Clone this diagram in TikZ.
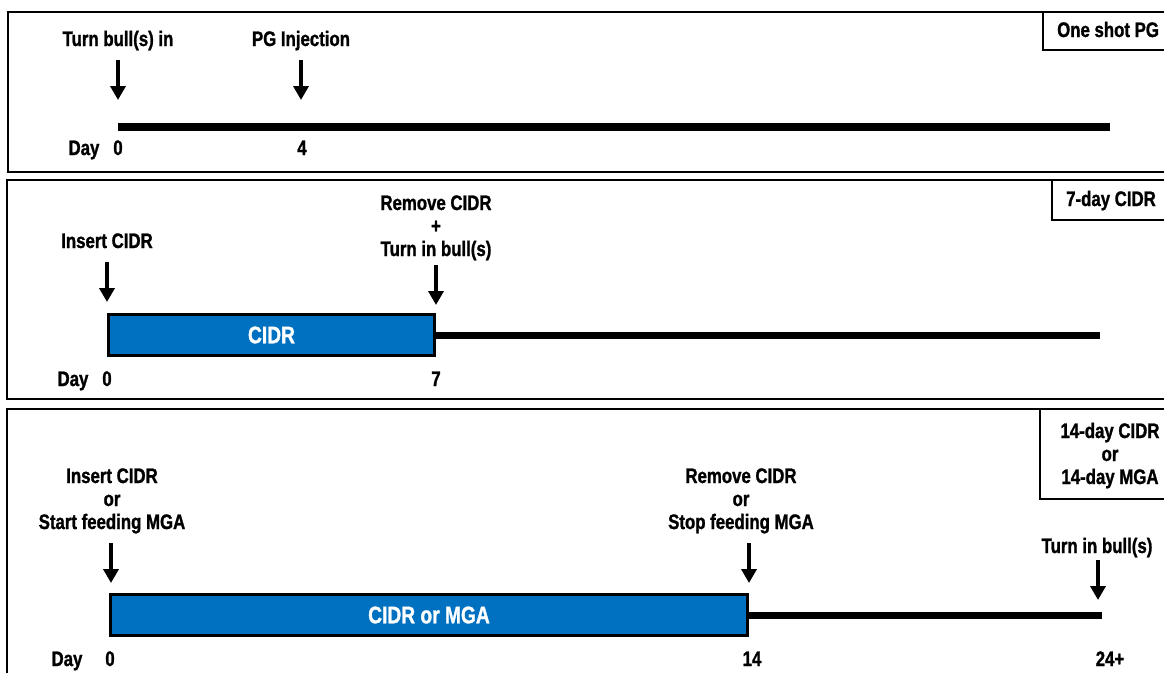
\documentclass[tikz,border=0pt]{standalone}
\usepackage{fontspec}
\setmainfont[FakeStretch=0.8, BoldFeatures={FakeBold=1.2}]{Liberation Sans}
\usetikzlibrary{arrows.meta}
\definecolor{cidrblue}{RGB}{0,112,192}

\begin{document}
\begin{tikzpicture}[x=1pt,y=-1pt,
  every node/.style={font=\fontsize{21}{23}\selectfont\bfseries, inner sep=0pt},
  panel/.style={draw, line width=2pt},
  tagbox/.style={draw, line width=1.2pt},
  txt/.style={anchor=base, align=center},
  darr/.style={line width=3.5pt, -{Triangle[width=15pt,length=14pt]}},
  tline/.style={line width=7pt},
  bar/.style={draw, line width=3pt, fill=cidrblue, text=white,
    font=\fontsize{24}{26}\selectfont\bfseries}]
\useasboundingbox (0,0) rectangle (1164,672);
\clip (0,0) rectangle (1164,672);

% one shot PG
\draw[panel] (8,12) rectangle (1175,172);
\draw[tagbox] (1043,12) rectangle (1175,50);
\node[anchor=base west] (tagA) at (1057,37) {One shot PG};
\node[txt] (turnA) at (118,46) {Turn bull(s) in};
\node[txt] (pgA) at (301,46) {PG Injection};
\coordinate (turnAtop) at (118,60);
\coordinate (turnAtip) at (118,100);
\coordinate (pgAtop) at (301,60);
\coordinate (pgAtip) at (301,100);
\draw[darr] (turnAtop) -- (turnAtip);
\draw[darr] (pgAtop) -- (pgAtip);
\coordinate (startA) at (118,127);
\coordinate (endA) at (1110,127);
\draw[tline, line width=8pt] (startA) -- (endA);
\node[txt] (dayA) at (84,155) {Day};
\node[txt] (zeroA) at (118,155) {0};
\node[txt] (fourA) at (302,155) {4};

% 7-day CIDR
\draw[panel] (7,180) rectangle (1175,399);
\draw[tagbox] (1052,180) rectangle (1175,220);
\node[anchor=base west] (tagB) at (1066,206) {7-day CIDR};
\node[txt] (insB) at (107,248) {Insert CIDR};
\node[txt] (remB) at (436,256) {Remove CIDR\\+\\Turn in bull(s)};
\coordinate (insBtop) at (107,262);
\coordinate (insBtip) at (107,302);
\coordinate (remBtop) at (436,265);
\coordinate (remBtip) at (436,305);
\draw[darr] (insBtop) -- (insBtip);
\draw[darr] (remBtop) -- (remBtip);
\node[bar, minimum width=326, minimum height=41] (cidrB) at (271.5,335) {CIDR};
\coordinate (endB) at (1100,335);
\draw[tline] (cidrB.east) -- (endB);
\node[txt] (dayB) at (73,386) {Day};
\node[txt] (zeroB) at (107,386) {0};
\node[txt] (sevenB) at (436,386) {7};

% 14-day CIDR or MGA
\draw[panel] (7,409) rectangle (1175,690);
\draw[tagbox] (1040,409) rectangle (1175,499);
\node[txt] (tagC) at (1110,484) {14-day CIDR\\or\\14-day MGA};
\node[txt] (insC) at (112,529) {Insert CIDR\\or\\Start feeding MGA};
\node[txt] (remC) at (741,529) {Remove CIDR\\or\\Stop feeding MGA};
\node[txt] (turnC) at (1097,553) {Turn in bull(s)};
\coordinate (insCtop) at (111,543);
\coordinate (insCtip) at (111,583);
\coordinate (remCtop) at (749,543);
\coordinate (remCtip) at (749,583);
\coordinate (turnCtop) at (1098,560);
\coordinate (turnCtip) at (1098,600);
\draw[darr] (insCtop) -- (insCtip);
\draw[darr] (remCtop) -- (remCtip);
\draw[darr] (turnCtop) -- (turnCtip);
\node[bar, minimum width=637, minimum height=41] (mgaC) at (429,615) {CIDR or MGA};
\coordinate (endC) at (1102,615);
\draw[tline] (mgaC.east) -- (endC);
\node[txt] (dayC) at (67,666) {Day};
\node[txt] (zeroC) at (110,666) {0};
\node[txt] (fourteenC) at (752,666) {14};
\node[txt] (plusC) at (1110,666) {24+};
\end{tikzpicture}
\end{document}
